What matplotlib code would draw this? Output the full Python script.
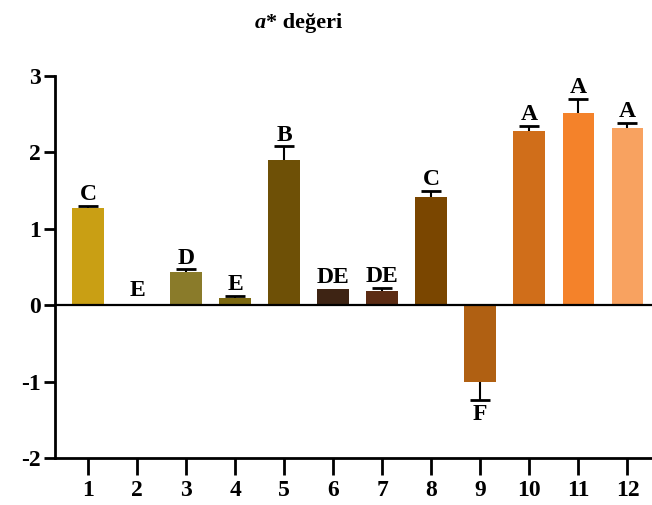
import numpy as np
import matplotlib.pyplot as plt

# ornekler 1-12, a* degerleri, standart hata, harfler
ornekler = ['1', '2', '3', '4', '5', '6', '7', '8', '9', '10', '11', '12']
degerler = [1.27, -0.01, 0.43, 0.09, 1.90, 0.21, 0.18, 1.41, -1.00, 2.28, 2.52, 2.32]
hatalar = [0.03, 0.00, 0.04, 0.03, 0.18, 0.00, 0.05, 0.09, 0.24, 0.07, 0.18, 0.07]
harfler = ['C', 'E', 'D', 'E', 'B', 'DE', 'DE', 'C', 'F', 'A', 'A', 'A']
renkler = ['#C99F14', '#A88A20', '#8A7B2A', '#7C6810', '#6E5006', '#3E2414',
           '#5C2C14', '#7A4600', '#B06012', '#D06E1A', '#F4822A', '#F8A260']

plt.rcParams['font.family'] = ['Liberation Serif', 'DejaVu Serif']
plt.rcParams['font.weight'] = 'bold'

fig = plt.figure(figsize=(6.52, 5.05), dpi=100)
ax = fig.add_axes([0.0844, 0.093, 0.9156, 0.7565])

x = np.arange(1, len(ornekler) + 1)
degerler = np.array(degerler)
hatalar = np.array(hatalar)
ax.bar(x, degerler, width=0.65, color=renkler, zorder=3)

# hata cubuklari (tek yonlu), sifir hata icin cizme
uclar = np.where(degerler >= 0, degerler + hatalar, degerler - hatalar)
var = hatalar > 0
ax.vlines(x[var], degerler[var], uclar[var], color='black', lw=1.5, zorder=2)
ax.plot(x[var], uclar[var], linestyle='none', marker='_', markersize=14, mew=2, color='black', zorder=2)

for xi, u, d, h in zip(x, uclar, degerler, harfler):
    if d > -0.5:
        ax.annotate(h, (xi, max(u, 0)), xytext=(0, 3 if d <= 0 else 0.5), textcoords='offset points',
                    ha='center', va='bottom', fontsize=17, fontweight='bold')
    else:
        ax.annotate(h, (xi, u), xytext=(0, -3), textcoords='offset points',
                    ha='center', va='top', fontsize=17, fontweight='bold')

ax.axhline(0, color='black', lw=1.6, zorder=4)

ax.set_xlim(0.327, 12.5)
ax.set_ylim(-2, 3)
ax.set_yticks([-2, -1, 0, 1, 2, 3])
ax.set_yticklabels(['-2', '-1', '0', '1', '2', '3'])
ax.set_xticks(x)
ax.set_xticklabels(ornekler)
ax.spines['top'].set_visible(False)
ax.spines['right'].set_visible(False)
ax.spines['left'].set_linewidth(2)
ax.spines['bottom'].set_linewidth(2)
ax.tick_params(axis='y', length=8, width=2, labelsize=17, pad=2)
ax.tick_params(axis='x', length=12, width=2, labelsize=17, pad=4)
for t in ax.get_xticklabels() + ax.get_yticklabels():
    t.set_fontweight('bold')

fig.text(0.408, 0.955, 'a', ha='right', va='center', fontsize=16, fontweight='bold', style='italic')
fig.text(0.408, 0.955, '* değeri', ha='left', va='center', fontsize=16, fontweight='bold')

fig.savefig('out.png', dpi=100)
